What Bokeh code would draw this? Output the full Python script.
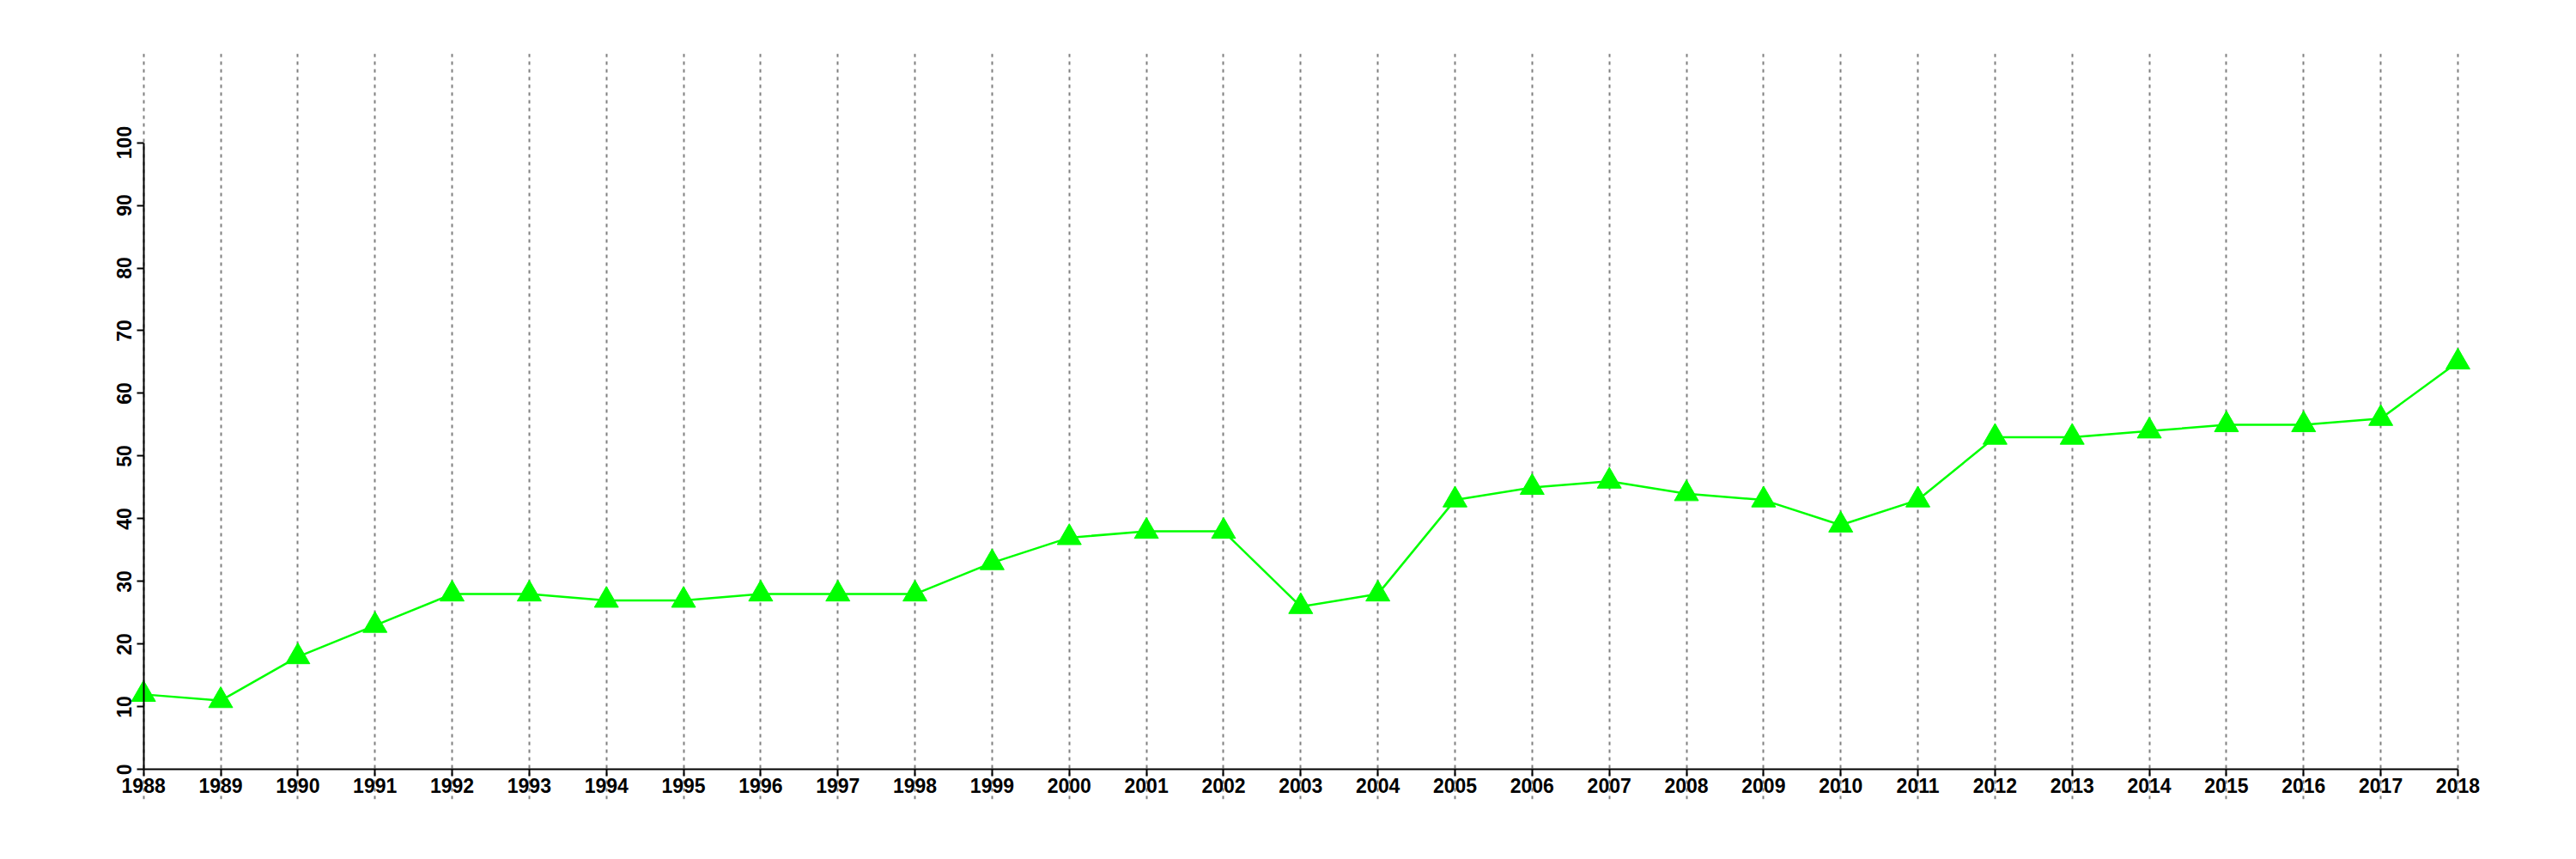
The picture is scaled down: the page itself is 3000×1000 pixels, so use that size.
from bokeh.plotting import figure
from bokeh.models import FixedTicker, Range1d
from bokeh.embed import file_html
from bokeh.resources import INLINE

years = list(range(1988, 2019))
values = [12, 11, 18, 23, 28, 28, 27, 27, 28, 28, 28, 33, 37, 38, 38, 26, 28,
          43, 45, 46, 44, 43, 39, 43, 53, 53, 54, 55, 55, 56, 65]
y_ticks = [0, 10, 20, 30, 40, 50, 60, 70, 80, 90, 100]

W, H = 2984, 984
p = figure(width=W, height=H, output_backend="svg", toolbar_location=None,
           x_range=Range1d(1987.258, 2018.98), y_range=Range1d(-4.73, 114.18),
           min_border_left=100, min_border_right=34, min_border_top=62,
           min_border_bottom=54)
p.outline_line_color = None
p.background_fill_color = "white"
p.border_fill_color = "white"

p.xaxis.fixed_location = 0
p.yaxis.fixed_location = 1988
p.xaxis.bounds = (1988, 2018)
p.yaxis.bounds = (0, 100)
p.xaxis.ticker = FixedTicker(ticks=years)
p.yaxis.ticker = FixedTicker(ticks=y_ticks)
for ax in (p.xaxis, p.yaxis):
    ax.axis_line_color = "black"
    ax.axis_line_width = 2
    ax.major_tick_line_color = "black"
    ax.major_tick_line_width = 2
    ax.major_tick_out = 8
    ax.major_tick_in = 0
    ax.minor_tick_line_color = None
    ax.major_label_text_font = "Liberation Sans"
    ax.major_label_text_font_style = "bold"
    ax.major_label_text_font_size = "23px"
    ax.major_label_text_color = "black"
p.xaxis.major_label_standoff = 2
p.yaxis.major_label_standoff = 6
p.yaxis.major_label_orientation = "vertical"

p.xgrid.ticker = FixedTicker(ticks=years)
p.xgrid.grid_line_color = "#808080"
p.xgrid.grid_line_width = 2
p.xgrid.grid_line_dash = "4 5"
p.ygrid.grid_line_color = None

p.line(years, values, line_color="#00ff00", line_width=2.5)
p.scatter(years, values, marker="triangle", size=28, fill_color="#00ff00",
          line_color="#00ff00", line_width=1)

open("out.html", "w").write(file_html(p, INLINE))
